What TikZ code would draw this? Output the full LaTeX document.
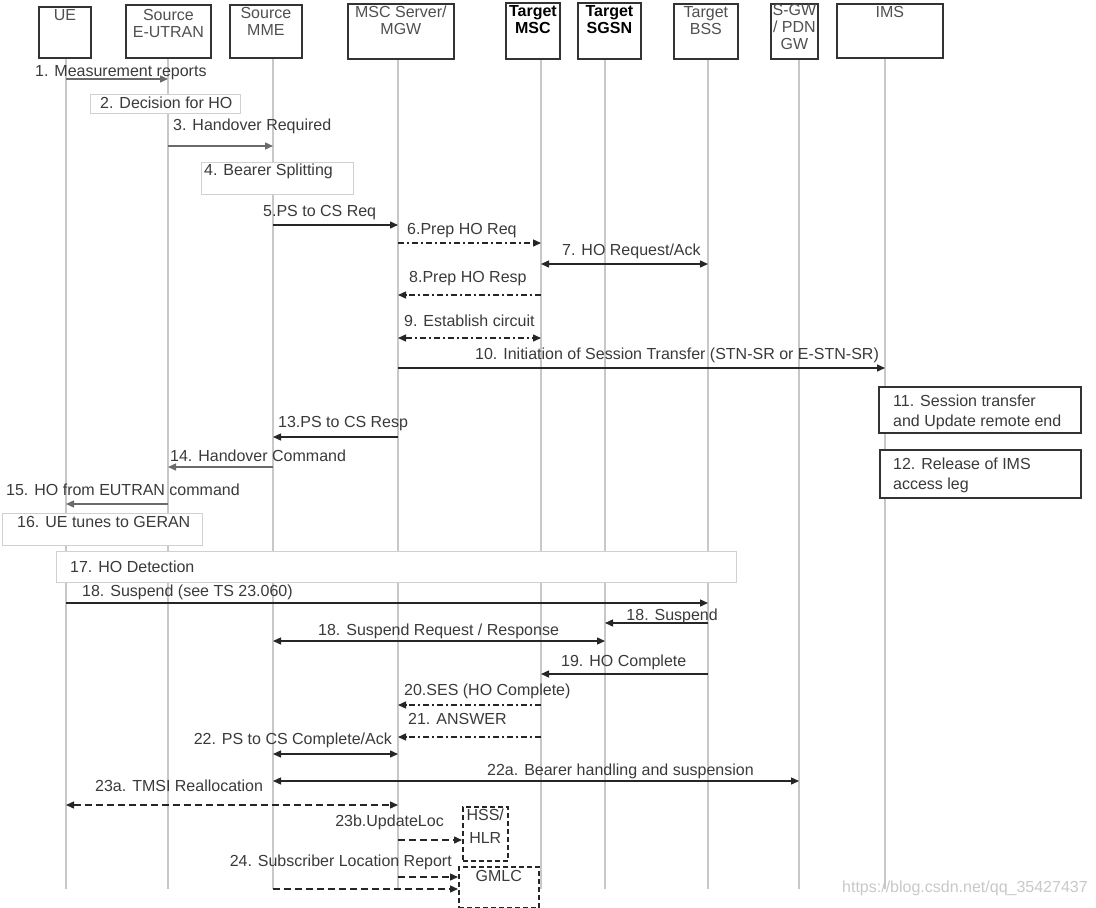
\documentclass[tikz,border=0pt]{standalone}
\usepackage{fontspec}
\setmainfont{Liberation Sans}
\usetikzlibrary{arrows.meta}
\definecolor{txt}{HTML}{3A3A3A}
\definecolor{hdrtxt}{HTML}{505050}
\definecolor{lifec}{HTML}{C8C8C8}
\definecolor{notec}{HTML}{D0D0D0}
\definecolor{msgg}{HTML}{6A6A6A}
\definecolor{wmark}{HTML}{C8C8C8}
\begin{document}
\begin{tikzpicture}[x=1pt,y=-1pt,
  font=\fontsize{16}{18}\selectfont,
  >={Triangle[length=8pt,width=7pt]},
  hdrbox/.style={draw=black!80, line width=1.8pt, fill=white, inner sep=0pt, anchor=north west},
  hdrlbl/.style={text=hdrtxt, align=center, inner sep=0pt, anchor=north, font=\fontsize{16}{17}\selectfont},
  boldlbl/.style={hdrlbl, text=black, font=\fontsize{16}{17}\selectfont\bfseries},
  life/.style={draw=lifec, line width=1.2pt},
  lbl/.style={text=txt, inner sep=0pt, text height=11.5pt, text depth=3.5pt},
  msg/.style={draw=black!85, line width=1.4pt, ->},
  gmsg/.style={draw=msgg, line width=1.4pt, ->},
  bmsg/.style={draw=black!85, line width=1.4pt, <->},
  ddmsg/.style={dash pattern=on 6pt off 3pt on 2pt off 3pt},
  dmsg/.style={dash pattern=on 7pt off 4pt},
  notebox/.style={draw=notec, line width=1pt, fill=white, inner sep=0pt, anchor=north west},
  evbox/.style={draw=black!80, line width=1.5pt, fill=white, inner sep=0pt, anchor=north west},
  dbox/.style={draw=black!85, line width=1.5pt, dash pattern=on 5pt off 3pt, inner sep=0pt, anchor=north west},
  evlbl/.style={text=txt, inner sep=0pt, align=left, anchor=north west, font=\fontsize{16}{20}\selectfont},
]
\useasboundingbox (0,0) rectangle (1096,908);

% ---------- header boxes ----------
\node[hdrbox, minimum width=52, minimum height=51, label={[hdrlbl, yshift=-3pt]north:UE}] (ue) at (38,6) {};
\node[hdrbox, minimum width=85, minimum height=53, label={[hdrlbl, yshift=-5pt]north:Source\\E-UTRAN}] (eut) at (125,4) {};
\node[hdrbox, minimum width=72, minimum height=53, label={[hdrlbl, yshift=-3pt]north:Source\\MME}] (mme) at (229,4) {};
\node[hdrbox, minimum width=106, minimum height=55, label={[hdrlbl, yshift=-3pt]north:MSC Server/\\MGW}] (msc) at (347,3) {};
\node[hdrbox, minimum width=54, minimum height=56, label={[boldlbl, yshift=-3pt]north:Target\\MSC}] (tmsc) at (505,2) {};
\node[hdrbox, minimum width=63, minimum height=56, label={[boldlbl, yshift=-3pt]north:Target\\SGSN}] (sgsn) at (577,2) {};
\node[hdrbox, minimum width=64, minimum height=55, label={[hdrlbl, yshift=-3pt]north:Target\\BSS}] (bss) at (673,3) {};
\node[hdrbox, minimum width=47, minimum height=55, label={[hdrlbl, yshift=-1pt]north:S-GW\\/ PDN\\GW}] (sgw) at (770,3) {};
\node[hdrbox, minimum width=106, minimum height=54, label={[hdrlbl, yshift=-3pt]north:IMS}] (ims) at (836,3) {};

% ---------- lifeline x positions ----------
\coordinate (ueL) at (66,0);
\coordinate (eutL) at (168,0);
\coordinate (mmeL) at (273,0);
\coordinate (mscL) at (398,0);
\coordinate (tmscL) at (541,0);
\coordinate (sgsnL) at (605,0);
\coordinate (bssL) at (708,0);
\coordinate (sgwL) at (799,0);
\coordinate (imsL) at (885,0);

\foreach \n/\b in {ueL/ue, eutL/eut, mmeL/mme, mscL/msc, tmscL/tmsc, sgsnL/sgsn, bssL/bss, sgwL/sgw, imsL/ims}
  \draw[life] (\n |- \b.south) -- (\n |- 0,889);

% ---------- 1 ----------
\draw[gmsg] (ueL |- 0,79) -- (eutL |- 0,79);
\node[lbl, anchor=west] (m1) at (35,72) {1. Measurement reports};
% ---------- 2 ----------
\node[notebox, minimum width=150, minimum height=19, label={[lbl, anchor=west, xshift=10pt]west:2. Decision for HO}] (n2) at (90,94) {};
% ---------- 3 ----------
\draw[gmsg] (eutL |- 0,146) -- (mmeL |- 0,146);
\node[lbl, anchor=west] (m3) at (173,126) {3. Handover Required};
% ---------- 4 ----------
\node[notebox, minimum width=152, minimum height=32, label={[lbl, anchor=north west, xshift=3pt, yshift=-2pt]north west:4. Bearer Splitting}] (n4) at (201,162) {};
% ---------- 5 ----------
\draw[msg] (mmeL |- 0,225) -- (mscL |- 0,225);
\node[lbl, anchor=west] (m5) at (263,212) {5.PS to CS Req};
% ---------- 6 ----------
\draw[msg, ddmsg] (mscL |- 0,243) -- (tmscL |- 0,243);
\node[lbl, anchor=west] (m6) at (407,230) {6.Prep HO Req};
% ---------- 7 ----------
\draw[bmsg] (tmscL |- 0,264) -- (bssL |- 0,264);
\node[lbl, anchor=west] (m7) at (562,251) {7. HO Request/Ack};
% ---------- 8 ----------
\draw[msg, ddmsg] (tmscL |- 0,295) -- (mscL |- 0,295);
\node[lbl, anchor=west] (m8) at (409,278) {8.Prep HO Resp};
% ---------- 9 ----------
\draw[bmsg, ddmsg] (mscL |- 0,338) -- (tmscL |- 0,338);
\node[lbl, anchor=west] (m9) at (404,322) {9. Establish circuit};
% ---------- 10 ----------
\draw[msg] (mscL |- 0,368) -- (imsL |- 0,368);
\node[lbl, anchor=west] (m10) at (475,355) {10. Initiation of Session Transfer (STN-SR or E-STN-SR)};
% ---------- 11, 12 ----------
\node[evbox, minimum width=202, minimum height=46, label={[evlbl, xshift=15pt, yshift=-9pt]north west:11. Session transfer\\and Update remote end}] (n11) at (878,386) {};
\node[evbox, minimum width=201, minimum height=48, label={[evlbl, xshift=14pt, yshift=-9pt]north west:12. Release of IMS\\access leg}] (n12) at (879,449) {};
% ---------- 13 ----------
\draw[msg] (mscL |- 0,437) -- (mmeL |- 0,437);
\node[lbl, anchor=west] (m13) at (278,423) {13.PS to CS Resp};
% ---------- 14 ----------
\draw[gmsg] (mmeL |- 0,467) -- (eutL |- 0,467);
\node[lbl, anchor=west] (m14) at (170,457) {14. Handover Command};
% ---------- 15 ----------
\draw[gmsg] (eutL |- 0,504) -- (ueL |- 0,504);
\node[lbl, anchor=west] (m15) at (6,491) {15. HO from EUTRAN command};
% ---------- 16 ----------
\node[notebox, minimum width=200, minimum height=32, label={[lbl, anchor=north west, xshift=15pt, yshift=-2.5pt]north west:16. UE tunes to GERAN}] (n16) at (2,513) {};
% ---------- 17 ----------
\node[notebox, minimum width=680, minimum height=31, label={[lbl, anchor=west, xshift=14pt, yshift=-1.5pt]west:17. HO Detection}] (n17) at (56,551) {};
% ---------- 18 ----------
\draw[msg] (ueL |- 0,603) -- (bssL |- 0,603);
\node[lbl, anchor=west] (m18) at (82,592) {18. Suspend (see TS 23.060)};
\draw[msg] (bssL |- 0,623) -- (sgsnL |- 0,623);
\node[lbl, anchor=east] (m18b) at (718,616) {18. Suspend};
\draw[bmsg] (mmeL |- 0,641) -- (sgsnL |- 0,641);
\node[lbl, anchor=west] (m18c) at (318,631) {18. Suspend Request / Response};
% ---------- 19 ----------
\draw[msg] (bssL |- 0,674) -- (tmscL |- 0,674);
\node[lbl, anchor=west] (m19) at (561,662) {19. HO Complete};
% ---------- 20, 21 ----------
\draw[msg, ddmsg] (tmscL |- 0,705) -- (mscL |- 0,705);
\node[lbl, anchor=west] (m20) at (404,691) {20.SES (HO Complete)};
\draw[msg, ddmsg] (tmscL |- 0,737) -- (mscL |- 0,737);
\node[lbl, anchor=west] (m21) at (408,720) {21. ANSWER};
% ---------- 22 ----------
\draw[bmsg] (mmeL |- 0,754) -- (mscL |- 0,754);
\node[lbl, anchor=east] (m22) at (392,740) {22. PS to CS Complete/Ack};
\draw[bmsg] (mmeL |- 0,781) -- (sgwL |- 0,781);
\node[lbl, anchor=west] (m22a) at (487,771) {22a. Bearer handling and suspension};
% ---------- 23 ----------
\draw[bmsg, dmsg] (ueL |- 0,805) -- (mscL |- 0,805);
\node[lbl, anchor=west] (m23a) at (95,787) {23a. TMSI Reallocation};
\node[dbox, minimum width=45, minimum height=54, label={[hdrlbl, text=txt, font=\fontsize{16}{23}\selectfont, yshift=-3pt]north:HSS/\\HLR}] (hss) at (462,806) {};
\draw[msg, dmsg] (mscL |- 0,840) -- (hss.west |- 0,840);
\node[lbl, anchor=east] (m23b) at (444,822) {23b.UpdateLoc};
% ---------- 24 ----------
\node[dbox, minimum width=80, minimum height=41, label={[hdrlbl, text=txt, yshift=-4pt]north:GMLC}] (gmlc) at (458,866) {};
\draw[msg, dmsg] (mscL |- 0,877) -- (gmlc.west |- 0,877);
\draw[msg, dmsg] (mmeL |- 0,889) -- (gmlc.west |- 0,889);
\node[lbl, anchor=east] (m24) at (452,862) {24. Subscriber Location Report};

% ---------- watermark ----------
\node[text=wmark, inner sep=0pt, anchor=west] (wm) at (842,888) {https://blog.csdn.net/qq\_35427437};
\end{tikzpicture}
\end{document}
